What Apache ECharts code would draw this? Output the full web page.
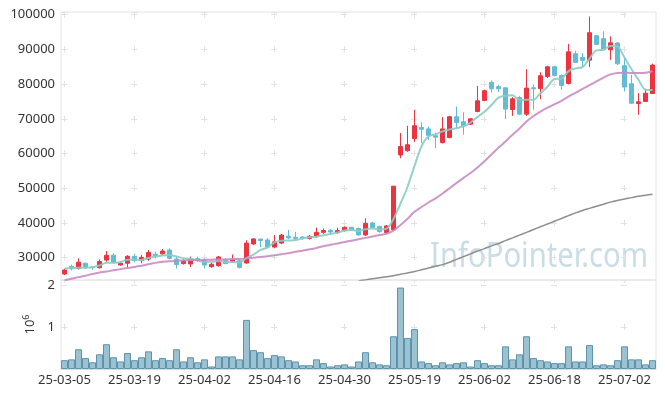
<!DOCTYPE html>
<html>
<head>
<meta charset="utf-8">
<script src="https://cdn.jsdelivr.net/npm/echarts@6/dist/echarts.min.js"></script>
<style>html,body{margin:0;padding:0;background:#fff;}#c{width:665px;height:398px;}</style>
</head>
<body>
<div id="c"></div>
<script>
var dates = ['25-03-05','25-03-06','25-03-07','25-03-10','25-03-11','25-03-12','25-03-13','25-03-14','25-03-17','25-03-18','25-03-19','25-03-20','25-03-21','25-03-24','25-03-25','25-03-26','25-03-27','25-03-28','25-03-31',
'25-04-01','25-04-02','25-04-03','25-04-04','25-04-07','25-04-08','25-04-09','25-04-10','25-04-11','25-04-14','25-04-15','25-04-16','25-04-17','25-04-18','25-04-21','25-04-22','25-04-23','25-04-24','25-04-25','25-04-28','25-04-29','25-04-30',
'25-05-02','25-05-07','25-05-08','25-05-09','25-05-12','25-05-13','25-05-14','25-05-15','25-05-16','25-05-19','25-05-20','25-05-21','25-05-22','25-05-23','25-05-26','25-05-27','25-05-28','25-05-29','25-05-30',
'25-06-02','25-06-04','25-06-05','25-06-09','25-06-10','25-06-11','25-06-12','25-06-13','25-06-16','25-06-17','25-06-18','25-06-19','25-06-20','25-06-23','25-06-24','25-06-25','25-06-26','25-06-27','25-06-30',
'25-07-01','25-07-02','25-07-03','25-07-04','25-07-07','25-07-08'];

var opens = [25300,27500,26900,28400,27300,27100,29300,30700,27900,28400,30400,29200,29600,31000,31100,32200,29600,28300,28200,29700,
29400,27400,27700,29500,28850,29100,28450,33950,35350,35100,33050,34200,36200,35900,35950,35500,36250,37300,37900,37200,
37800,38750,38400,36550,40000,38950,37200,38000,59600,60800,64300,67500,67100,65100,63150,64600,70600,69150,68450,72100,
75300,80500,79250,78950,72700,76150,71350,78950,78700,82200,85000,82500,80200,88750,87700,86900,93950,93100,89900,91850,
85300,80100,74400,75000,77300];
var closes = [26450,26800,28700,27100,27100,28900,30700,28700,28400,30400,29200,30100,31500,30500,31900,29800,28000,29150,29600,29300,
27900,28100,30200,28300,29400,27200,34200,35400,34950,33050,34550,36500,35700,35500,35500,36150,37300,37800,37400,37800,
38750,38000,36550,39900,38650,37500,39150,50600,62000,62550,68000,67000,65200,64700,67100,70600,68950,68000,70000,75200,
78100,78650,78650,72800,75750,71350,78850,78650,82400,85000,82500,79600,89300,86250,86850,94800,91450,90100,91900,85850,
79150,74500,74900,77400,85500];
var lows = [25000,26300,26600,26800,26500,26900,28800,28400,27700,27000,28700,28400,29100,29800,30600,29500,26900,28000,27300,28800,
26900,27100,27400,28100,28500,26900,28300,33700,33000,32700,32700,33900,35300,35200,35200,35200,35800,36900,36700,36900,
37500,37900,36300,36300,38400,37200,36900,37800,58650,60500,63300,63000,63900,61550,62900,64400,67300,65400,68200,71900,
75100,77600,77700,69900,70850,71050,70850,72600,75650,81700,82200,78350,79900,86050,84900,84900,91450,89700,87000,85550,
77900,74300,71150,74800,77100];
var highs = [26800,28000,29800,28500,27600,29500,31900,31200,29000,30700,31100,30800,32200,31700,32500,32700,30300,29500,30300,30300,
29800,28500,30500,29800,30900,29300,35000,35600,35400,35600,36500,36800,38000,37400,36200,36500,38650,38400,38200,38650,
39000,38800,38650,41350,40300,39200,39400,50650,65900,68000,72600,69000,67800,66000,70500,70900,73550,71900,70200,79500,
78400,81050,79800,78950,76250,76600,84300,79900,83400,85300,85300,82800,91600,89600,88950,99500,93950,95200,93750,92150,
87500,82700,77400,78650,85900];
var volumes = [0.21,0.23,0.47,0.26,0.16,0.35,0.59,0.28,0.18,0.38,0.21,0.28,0.42,0.21,0.26,0.21,0.47,0.18,0.28,0.16,
0.23,0.06,0.30,0.30,0.30,0.23,1.17,0.45,0.40,0.26,0.33,0.30,0.21,0.18,0.09,0.09,0.23,0.14,0.06,0.09,
0.11,0.06,0.18,0.40,0.16,0.11,0.09,0.78,1.94,0.74,0.95,0.18,0.14,0.09,0.16,0.11,0.14,0.16,0.06,0.21,
0.14,0.09,0.09,0.54,0.23,0.35,0.78,0.26,0.21,0.18,0.14,0.14,0.54,0.18,0.18,0.57,0.09,0.11,0.09,0.21,
0.54,0.23,0.23,0.11,0.21];
var ma5 = [26900,27000,27100,27150,27230,27720,28500,28500,28760,29420,29480,29360,29920,30340,30640,30760,30340,29870,29690,29170,
28790,28810,29020,28760,28780,28640,29860,30900,32230,32960,34430,34890,34950,35060,35550,35870,36030,36450,36830,37290,
37810,37950,37700,38200,38370,38120,38350,41160,45580,50360,56460,62030,64950,65490,66400,66920,67310,67870,68930,70550,
72050,73990,76120,76680,76790,75440,75480,75480,77400,79250,81480,81630,83760,84530,84900,87360,89730,89890,91020,90820,
87690,84300,81260,78360,78290];
var ma20 = [23500,23900,24400,24800,25300,25700,26000,26400,26700,27000,27300,27700,28100,28500,28800,29000,29100,29200,29300,29300,
29400,29400,29500,29500,29600,29600,29800,30000,30200,30400,30700,31000,31300,31700,32000,32400,32800,33300,33700,34100,
34500,34900,35300,35700,36100,36500,36900,37800,39400,41200,43200,44600,45900,47100,48500,50000,51500,53000,54400,56000,
57800,59700,61700,63500,65400,67200,69200,70800,72100,73200,74200,75200,76400,77500,78600,79700,80800,81900,82800,83200,
83300,83200,83200,83300,83700];
var ma60 = [null,null,null,null,null,null,null,null,null,null,null,null,null,null,null,null,null,null,null,null,
null,null,null,null,null,null,null,null,null,null,null,null,null,null,null,null,null,null,null,null,
null,null,23300,23600,23900,24200,24500,24800,25200,25600,26000,26500,27000,27500,28000,28700,29500,30300,31100,31900,
32600,33400,34100,34900,35700,36500,37300,38100,38900,39700,40500,41300,42100,42900,43600,44200,44800,45400,46000,46500,
46900,47300,47700,48000,48300];
var priceTicks = [30000,40000,50000,60000,70000,80000,90000,100000];
var volumeTicks = [1,2];

var kdata = opens.map(function(o,i){return [o, closes[i], lows[i], highs[i]];});
var vdata = volumes.map(function(v){return v*1e6;});

var RED = '#ec3340', TEAL = '#62bcd4';
var FONT = 'Noto Sans';
var chart = echarts.init(document.getElementById('c'), null, {renderer:'canvas'});
var gridBorder = '#e4e4e4';
var crossColor = '#e2e2e2';
chart.setOption({
  animation: false,
  backgroundColor: '#fff',
  textStyle: {fontFamily: FONT},
  graphic: [{
    type: 'text', x: 430, y: 240, scaleX: 0.86, z: 0,
    style: {text: 'InfoPointer.com', font: '34px "Noto Sans"', fill: 'rgba(150,188,206,0.5)'}
  }],
  grid: [
    {left: 61, right: 9, top: 12, height: 268, show: true, borderColor: gridBorder, borderWidth: 1},
    {left: 61, right: 9, top: 280, height: 89, show: true, borderColor: gridBorder, borderWidth: 1}
  ],
  xAxis: [
    {type: 'category', gridIndex: 0, data: dates, boundaryGap: true,
     axisLine: {show: false}, axisTick: {show: false}, axisLabel: {show: false},
     splitLine: {show: true, interval: 9, alignWithLabel: true,
       lineStyle: {color: crossColor, width: 1, type: [6, 28.67], dashOffset: 0.3}}},
    {type: 'category', gridIndex: 1, data: dates, boundaryGap: true,
     axisLine: {show: true, lineStyle: {color: '#dddddd'}}, axisTick: {show: false},
     axisLabel: {interval: 9, color: '#333', fontSize: 13, margin: 5, fontFamily: FONT},
     splitLine: {show: true, interval: 9, alignWithLabel: true,
       lineStyle: {color: crossColor, width: 1, type: [6, 41], dashOffset: 3}}}
  ],
  yAxis: [
    {type: 'value', gridIndex: 0, min: 23565, max: 100780, minInterval: 10000, maxInterval: 10000, splitNumber: 8,
     axisLine: {show: false}, axisTick: {show: false},
     axisLabel: {color: '#333', fontSize: 13, margin: 6, fontFamily: FONT, showMinLabel: false, showMaxLabel: false,
       formatter: function(v){ return priceTicks.indexOf(v) >= 0 ? String(v) : ''; }},
     splitLine: {show: true, lineStyle: {color: crossColor, width: 1, type: [6, 63.9], dashOffset: 69.4}}},
    {type: 'value', gridIndex: 1, min: 0, max: 2.12e6, interval: 1e6,
     axisLine: {show: false}, axisTick: {show: false},
     axisLabel: {color: '#333', fontSize: 13, margin: 6, fontFamily: FONT, showMinLabel: false, showMaxLabel: false,
       formatter: function(v){ var t = v/1e6; return volumeTicks.indexOf(t) >= 0 ? String(t) : ''; }},
     name: '{a|10}{b|6}', nameLocation: 'middle', nameGap: 22, nameRotate: 90,
     nameTextStyle: {rich: {a: {fontSize: 13, color: '#333', fontFamily: FONT}, b: {fontSize: 9, color: '#333', fontFamily: FONT, padding: [0,0,7,0]}}},
     splitLine: {show: true, lineStyle: {color: crossColor, width: 1, type: [6, 63.9], dashOffset: 69.4}}}
  ],
  series: [
    {type: 'candlestick', xAxisIndex: 0, yAxisIndex: 0, data: kdata, barWidth: 5,
     itemStyle: {color: RED, color0: TEAL, borderColor: RED, borderColor0: TEAL, borderWidth: 1}},
    {type: 'line', xAxisIndex: 0, yAxisIndex: 0, data: ma5, symbol: 'none', smooth: 0.3,
     lineStyle: {color: '#8ccbc3', width: 2, opacity: 0.9}, z: 3},
    {type: 'line', xAxisIndex: 0, yAxisIndex: 0, data: ma20, symbol: 'none', smooth: 0.3,
     lineStyle: {color: '#c98cc4', width: 2, opacity: 0.9}, z: 3},
    {type: 'line', xAxisIndex: 0, yAxisIndex: 0, data: ma60, symbol: 'none', smooth: 0.3,
     lineStyle: {color: '#8e8e8e', width: 1.5}, z: 3},
    {type: 'bar', xAxisIndex: 1, yAxisIndex: 1, data: vdata, barWidth: '100%',
     itemStyle: {color: '#9bc2d2', borderColor: '#5f93ab', borderWidth: 1}}
  ]
});
</script>
</body>
</html>
